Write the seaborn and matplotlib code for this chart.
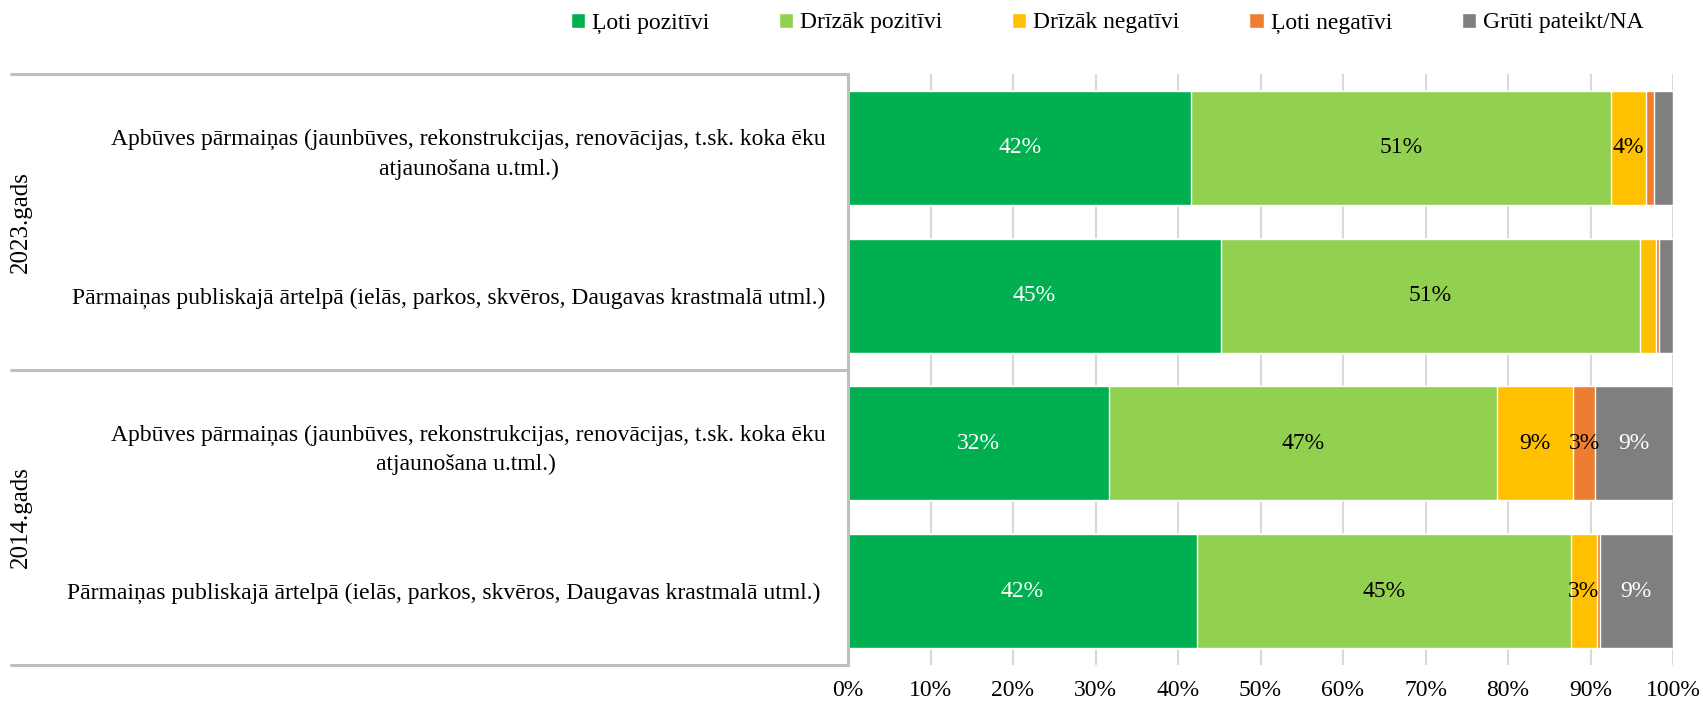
import numpy as np
import pandas as pd
import matplotlib
matplotlib.use("Agg")
import matplotlib.pyplot as plt
from matplotlib.lines import Line2D
import seaborn as sns

# %% dati
jautajumi = [
    "Apbūves pārmaiņas (jaunbūves, rekonstrukcijas, renovācijas, t.sk. koka ēku\natjaunošana u.tml.)",
    "Pārmaiņas publiskajā ārtelpā (ielās, parkos, skvēros, Daugavas krastmalā utml.)",
    "Apbūves pārmaiņas (jaunbūves, rekonstrukcijas, renovācijas, t.sk. koka ēku\natjaunošana u.tml.) ",
    "Pārmaiņas publiskajā ārtelpā (ielās, parkos, skvēros, Daugavas krastmalā utml.) ",
]
gadi = ["2023.gads", "2014.gads"]
kategorijas = ["Ļoti pozitīvi", "Drīzāk pozitīvi", "Drīzāk negatīvi", "Ļoti negatīvi", "Grūti pateikt/NA"]

loti_pozitivi = [41.6, 45.2, 31.6, 42.3]
drizak_pozitivi = [50.9, 50.8, 47.1, 45.3]
drizak_negativi = [4.2, 1.9, 9.2, 3.2]
loti_negativi = [1.0, 0.4, 2.7, 0.3]
gruti_pateikt = [2.3, 1.7, 9.4, 8.9]

krasas = ["#00B050", "#92D050", "#FFC000", "#ED7D31", "#7F7F7F"]
teksta_krasas = ["white", "black", "black", "black", "white"]

df = pd.DataFrame(
    {
        "Jautājums": jautajumi,
        kategorijas[0]: loti_pozitivi,
        kategorijas[1]: drizak_pozitivi,
        kategorijas[2]: drizak_negativi,
        kategorijas[3]: loti_negativi,
        kategorijas[4]: gruti_pateikt,
    }
)
kum = df[kategorijas].cumsum(axis=1)

# %% zīmējums
sns.set_style("white")
plt.rcParams["font.family"] = ["Liberation Serif", "DejaVu Serif"]
plt.rcParams["text.color"] = "black"
plt.rcParams["xtick.color"] = "black"
plt.rcParams["ytick.color"] = "black"
FS = 17

fig = plt.figure(figsize=(17.03, 7.05), dpi=100)
ax = fig.add_axes([848 / 1703, 1 - 665 / 705, (1673 - 848) / 1703, (665 - 74) / 705])

# sakrautie stabiņi: no garākā uz īsāko
for i in range(len(kategorijas) - 1, -1, -1):
    sns.barplot(
        x=kum[kategorijas[i]], y=df["Jautājums"], color=krasas[i], saturation=1,
        width=0.77, orient="h", ax=ax, label=kategorijas[i], zorder=2,
    )

# vērtību uzraksti
for j in range(len(df)):
    for i, kat in enumerate(kategorijas):
        v = df.loc[j, kat]
        if v >= 2.5:
            ax.text(kum.loc[j, kat] - v / 2, j, f"{round(v)}%", ha="center", va="center",
                    fontsize=FS, color=teksta_krasas[i], zorder=3)

ax.set_xlim(0, 100)
ax.set_ylim(3.5, -0.5)
ax.set_xticks(np.arange(0, 101, 10))
ax.set_xticklabels([f"{t}%" for t in range(0, 101, 10)], fontsize=FS)
ax.set_xlabel("")
ax.set_ylabel("")
ax.grid(axis="x", color="#d9d9d9", linewidth=1.5, zorder=0)
ax.set_axisbelow(True)
for s in ["top", "right", "bottom"]:
    ax.spines[s].set_visible(False)
ax.spines["left"].set_color("#bfbfbf")
ax.spines["left"].set_linewidth(2.2)
ax.tick_params(axis="x", length=0, pad=11)
ax.tick_params(axis="y", length=0, pad=16)
for lbl in ax.get_yticklabels():
    lbl.set_fontsize(FS)
    lbl.set_multialignment("center")
    lbl.set_linespacing(1.5)

# grupu līnijas un gadi
pos = ax.get_position()
x0 = 11 / 1703
y_aug, y_apak = pos.y1, pos.y0
y_vid = (y_aug + y_apak) / 2
for y in [y_aug, y_vid, y_apak]:
    fig.add_artist(Line2D([x0, pos.x0], [y, y], color="#bfbfbf", linewidth=2.2))
fig.text(21 / 1703, (y_aug + y_vid) / 2, gadi[0], rotation=90, ha="center", va="center", fontsize=18)
fig.text(21 / 1703, (y_vid + y_apak) / 2, gadi[1], rotation=90, ha="center", va="center", fontsize=18)

# leģenda
h, l = ax.get_legend_handles_labels()
sec = [l.index(k) for k in kategorijas]
ax.legend([h[k] for k in sec], [l[k] for k in sec], loc="center", bbox_to_anchor=(1107 / 1703, 1 - 23 / 705),
          bbox_transform=fig.transFigure, ncol=5, frameon=False, fontsize=FS,
          handlelength=0.6, handleheight=0.6, handletextpad=0.3, columnspacing=2.95)

fig.savefig("out.png", dpi=100)
